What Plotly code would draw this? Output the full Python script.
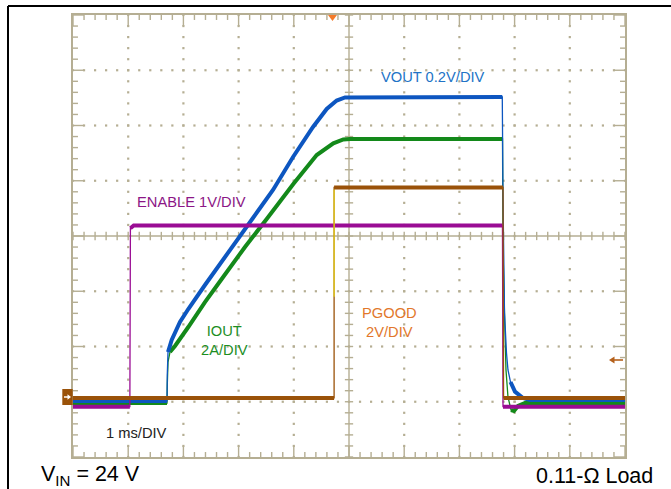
import plotly.graph_objects as go

# scope screen: 10 x 8 divisions, 1 ms/div; values are in screen divisions
enable_t = [0, 1.03, 1.04, 1.10, 7.78, 7.79, 10]
enable_v = [0.91, 0.91, 4.14, 4.19, 4.19, 0.91, 0.91]

pgood_t = [0, 4.73, 4.73, 7.79, 7.80, 10]
pgood_v = [1.07, 1.07, 4.88, 4.88, 1.07, 1.07]

# short yellow glitch seen on the PGOOD edge
glitch_t = [4.73, 4.73]
glitch_v = [4.84, 2.90]

vout_t = [0, 1.703, 1.708, 1.721, 1.788, 1.938, 2.089, 2.391, 3.025, 3.623, 3.986,
          4.348, 4.596, 4.777, 4.928, 7.777, 7.790, 7.817, 7.853, 7.880, 7.926,
          8.007, 8.152, 8.279, 10]
vout_v = [1.014, 1.014, 1.484, 1.900, 2.118, 2.443, 2.679, 3.113, 4.000, 4.833, 5.430,
          5.973, 6.299, 6.452, 6.507, 6.516, 4.652, 2.606, 1.882, 1.575, 1.357,
          1.182, 1.068, 1.032, 1.032]

iout_t = [0, 1.703, 1.708, 1.721, 1.757, 1.848, 2.089, 2.391, 2.694, 3.116, 3.509,
          3.991, 4.415, 4.716, 4.897, 5.018, 7.781, 7.790, 7.817, 7.844, 7.880,
          7.935, 7.989, 8.062, 8.188, 10]
iout_v = [0.977, 0.977, 1.303, 1.719, 1.900, 2.009, 2.353, 2.805, 3.222, 3.801, 4.308,
          4.941, 5.466, 5.678, 5.747, 5.756, 5.756, 3.747, 2.606, 1.575, 1.086,
          0.851, 0.833, 0.923, 0.977, 0.977]

N_XDIV = 10
N_YDIV = 8

GRID = '#b5ae93'
BLUE = '#0d56c0'
GREEN = '#13891a'
PURPLE = '#9a0c94'
BROWN = '#9a5209'

W, H = 671, 489
ML, MR, MT, MB = 73, 46, 15, 32


def px(x):
    return (x - ML) / (W - ML - MR)


def py(y):
    return (H - MB - y) / (H - MT - MB)


def flat_parts(t, v, steep=4):
    # break the path at steep edges so only the slow parts get the thick pen
    xs, ys = [t[0]], [v[0]]
    for i in range(1, len(t)):
        dt = t[i] - t[i - 1]
        dv = v[i] - v[i - 1]
        if abs(dv) > steep * abs(dt):
            xs.append(None)
            ys.append(None)
        xs.append(t[i])
        ys.append(v[i])
    return xs, ys


fig = go.Figure()

# dotted graticule
dot_x, dot_y = [], []
for gx in range(1, N_XDIV):
    if gx == N_XDIV // 2:
        continue
    for k in range(N_YDIV * 5 + 1):
        dot_x.append(gx)
        dot_y.append(k * 0.2)
for gy in range(1, N_YDIV):
    if gy == N_YDIV // 2:
        continue
    for k in range(N_XDIV * 5 + 1):
        dot_x.append(k * 0.2)
        dot_y.append(gy)
fig.add_trace(go.Scatter(x=dot_x, y=dot_y, mode='markers',
                         marker=dict(symbol='square', size=2.2, color=GRID),
                         hoverinfo='skip'))

# border ticks and centre cross
tx, ty = [], []
for k in range(N_XDIV * 5 + 1):
    x = k * 0.2
    ln = 0.2 if k % 5 == 0 else 0.09
    tx += [x, x, None, x, x, None]
    ty += [0, ln, None, N_YDIV, N_YDIV - ln, None]
    tx += [x, x, None]
    ty += [N_YDIV / 2 - 0.075, N_YDIV / 2 + 0.075, None]
for k in range(N_YDIV * 5 + 1):
    y = k * 0.2
    ln = 0.2 if k % 5 == 0 else 0.09
    tx += [0, ln, None, N_XDIV, N_XDIV - ln, None]
    ty += [y, y, None, y, y, None]
    tx += [N_XDIV / 2 - 0.075, N_XDIV / 2 + 0.075, None]
    ty += [y, y, None]
tx += [0, N_XDIV, None, N_XDIV / 2, N_XDIV / 2]
ty += [N_YDIV / 2, N_YDIV / 2, None, 0, N_YDIV]
fig.add_trace(go.Scatter(x=tx, y=ty, mode='lines', line=dict(color=GRID, width=1.4),
                         hoverinfo='skip'))

# waveforms: thin pen for the whole path, thick pen for the slow parts
for t, v, col in [(iout_t, iout_v, GREEN), (vout_t, vout_v, BLUE),
                  (enable_t, enable_v, PURPLE), (pgood_t, pgood_v, BROWN)]:
    fig.add_trace(go.Scatter(x=t, y=v, mode='lines', line=dict(color=col, width=1.3)))
    fx, fy = flat_parts(t, v)
    fig.add_trace(go.Scatter(x=fx, y=fy, mode='lines', connectgaps=False,
                             line=dict(color=col, width=4)))

fig.add_trace(go.Scatter(x=glitch_t, y=glitch_v, mode='lines',
                         line=dict(color='#e6d21e', width=1.3)))

font = 'Liberation Sans, Arial, sans-serif'
labels = [
    ('VOUT 0.2V/DIV', 6.527, 6.883, '#2173c6'),
    ('ENABLE 1V/DIV', 2.141, 4.615, '#8c1686'),
    ('IOUT<br>2A/DIV', 2.742, 2.102, '#1c8e1f'),
    ('PGOOD<br>2V/DIV', 5.728, 2.428, '#e2772b'),
    ('1 ms/DIV', 1.145, 0.443, '#222222'),
]
for txt, x, y, col in labels:
    fig.add_annotation(x=x, y=y, xref='x', yref='y', text=txt, showarrow=False,
                       font=dict(family=font, size=14.7, color=col),
                       xanchor='center', yanchor='middle')

fig.add_annotation(x=px(39.3), y=py(475.6), xref='paper', yref='paper',
                   text='V<sub>IN</sub> = 24 V', showarrow=False,
                   font=dict(family=font, size=21.5, color='#000000'),
                   xanchor='left', yanchor='middle')
fig.add_annotation(x=px(655), y=py(475.6), xref='paper', yref='paper',
                   text='0.11-Ω Load', showarrow=False,
                   font=dict(family=font, size=21.5, color='#000000'),
                   xanchor='right', yanchor='middle')


def path(points):
    return 'M ' + ' L '.join('%.4f %.4f' % (px(a), py(b)) for a, b in points) + ' Z'


# channel 1 ground flag on the left edge
fig.add_shape(type='rect', xref='paper', yref='paper', x0=px(62.3), x1=px(72.7),
              y0=py(405), y1=py(389), fillcolor=BROWN, line=dict(width=0))
fig.add_shape(type='line', xref='paper', yref='paper', x0=px(64), x1=px(68.5),
              y0=py(397), y1=py(397), line=dict(color='white', width=1.5))
fig.add_shape(type='path', xref='paper', yref='paper',
              path=path([(71, 397), (67.5, 394.3), (67.5, 399.7)]),
              fillcolor='white', line=dict(width=0))

# trigger level arrow on the right edge
fig.add_shape(type='line', xref='paper', yref='paper', x0=px(613), x1=px(623),
              y0=py(360), y1=py(360), line=dict(color='#b5611c', width=1.6))
fig.add_shape(type='path', xref='paper', yref='paper',
              path=path([(609, 360), (614.5, 356.5), (614.5, 363.5)]),
              fillcolor='#b5611c', line=dict(width=0))

# trigger position marker on top
fig.add_shape(type='path', xref='paper', yref='paper',
              path=path([(328, 15), (337, 15), (332.5, 21)]),
              fillcolor='#f47a2a', line=dict(width=0))

# outer frame
fig.add_shape(type='line', xref='paper', yref='paper', x0=px(8), x1=px(680),
              y0=py(6), y1=py(6), line=dict(color='black', width=2))
fig.add_shape(type='line', xref='paper', yref='paper', x0=px(8), x1=px(8),
              y0=py(6), y1=py(500), line=dict(color='black', width=2))

fig.update_xaxes(range=[0, N_XDIV], showgrid=False, zeroline=False, showticklabels=False,
                 showline=True, mirror=True, linecolor=GRID, linewidth=1.5)
fig.update_yaxes(range=[0, N_YDIV], showgrid=False, zeroline=False, showticklabels=False,
                 showline=True, mirror=True, linecolor=GRID, linewidth=1.5)
fig.update_layout(width=W, height=H, margin=dict(l=ML, r=MR, t=MT, b=MB),
                  showlegend=False, plot_bgcolor='white', paper_bgcolor='white')

# the page's default body margin would push the 671x489 figure out of the window
fig.write_html("out.html", config={'displayModeBar': False},
               post_script="document.body.style.margin='0';")
